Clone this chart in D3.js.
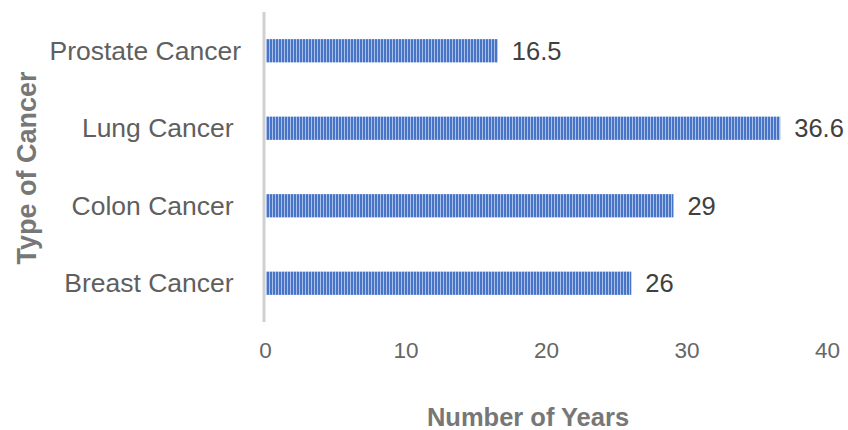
<!DOCTYPE html>
<html>
<head>
<meta charset="utf-8">
<script src="https://cdn.jsdelivr.net/npm/d3@7"></script>
<style>
  html, body { margin: 0; padding: 0; background: #fff; }
  svg { display: block; font-family: "Liberation Sans", Arial, sans-serif; }
</style>
</head>
<body>
<svg id="chart" width="848" height="430"></svg>
<script>
// Survival data: years by cancer type (top to bottom)
const categories = ["Prostate Cancer", "Lung Cancer ", "Colon Cancer ", "Breast Cancer "];
const years = [16.5, 36.6, 29, 26];
const xTicks = [0, 10, 20, 30, 40];

const svg = d3.select("#chart");
const margin = { left: 265, right: 21, top: 12, bottom: 108 };
const W = 848, H = 430;

const x = d3.scaleLinear().domain([0, 40]).range([margin.left, W - margin.right]);
const y = d3.scaleBand().domain(categories).range([margin.top, H - margin.bottom]).paddingInner(0.7).paddingOuter(0.35);

// vertical stripe fill for the bars
const defs = svg.append("defs");
const pat = defs.append("pattern")
  .attr("id", "stripes").attr("patternUnits", "userSpaceOnUse")
  .attr("width", 3).attr("height", 10);
pat.append("rect").attr("width", 3).attr("height", 10).attr("fill", "#4874c6");
pat.append("rect").attr("x", 2).attr("width", 1).attr("height", 10).attr("fill", "#aac0ea");

// bars
svg.append("g").selectAll("rect").data(categories).join("rect")
  .attr("x", x(0) + 1)
  .attr("y", d => y(d))
  .attr("width", (d, i) => x(years[i]) - x(0))
  .attr("height", y.bandwidth())
  .attr("fill", "url(#stripes)");

// vertical axis line
svg.append("line")
  .attr("x1", x(0) - 1).attr("x2", x(0) - 1)
  .attr("y1", margin.top).attr("y2", H - margin.bottom)
  .attr("stroke", "#d0d0d0").attr("stroke-width", 3);

// category labels
svg.append("g").selectAll("text").data(categories).join("text")
  .attr("x", x(0) - 24)
  .attr("y", d => y(d) + y.bandwidth() / 2)
  .attr("text-anchor", "end")
  .attr("dominant-baseline", "central")
  .style("white-space", "pre")
  .attr("font-size", 26.5)
  .attr("fill", "#5f5f5f")
  .text(d => d);

// value labels
svg.append("g").selectAll("text").data(categories).join("text")
  .attr("x", (d, i) => x(years[i]) + 15)
  .attr("y", d => y(d) + y.bandwidth() / 2)
  .attr("dominant-baseline", "central")
  .attr("font-size", 25.5)
  .attr("fill", "#404040")
  .text((d, i) => String(years[i]));

// x tick labels
const xAxis = d3.axisBottom(x).tickValues(xTicks).tickSize(0).tickPadding(0).tickFormat(d3.format("d"));
const gx = svg.append("g").attr("transform", `translate(0,${H - margin.bottom + 20})`).call(xAxis);
gx.select(".domain").remove();
gx.selectAll("text")
  .attr("font-size", 22.5)
  .attr("font-family", "Liberation Sans, Arial, sans-serif")
  .attr("fill", "#666666")
  .attr("dy", "0.71em");

// axis titles
svg.append("text")
  .attr("x", 528).attr("y", 426)
  .attr("text-anchor", "middle")
  .attr("font-size", 25.5).attr("font-weight", "bold").attr("fill", "#777777")
  .text("Number of Years");

svg.append("text")
  .attr("transform", "translate(27,168) rotate(-90)")
  .attr("text-anchor", "middle").attr("dominant-baseline", "central")
  .attr("font-size", 27).attr("font-weight", "bold").attr("fill", "#777777")
  .text("Type of Cancer");
</script>
</body>
</html>
